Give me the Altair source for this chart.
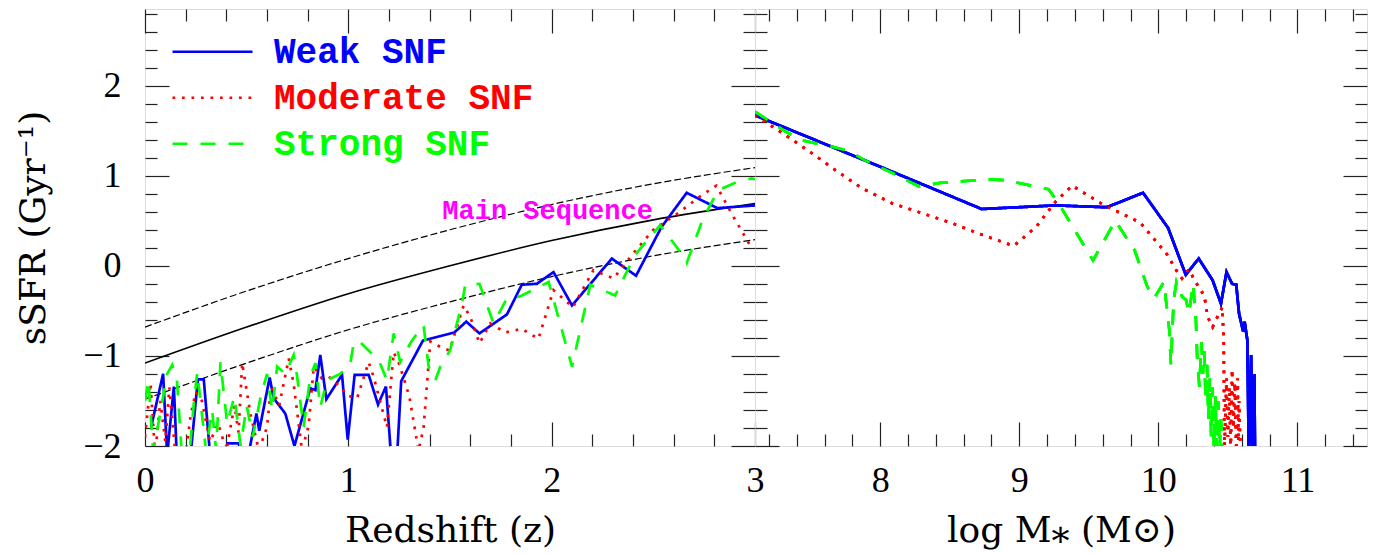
import altair as alt
import pandas as pd

SERIES = ["Weak SNF", "Moderate SNF", "Strong SNF"]
COLORS = ["#0000ff", "#ff0000", "#00ff00"]
DASHES = [[1, 0], [2.7, 6.8], [15, 13]]

# ---------------- left panel: sSFR vs redshift ----------------
ms_z = [0.0, 0.5, 1.0, 1.5, 2.0, 2.5, 3.0]
ms_center = [-1.08, -0.68, -0.31, 0.0, 0.28, 0.51, 0.69]
ms_upper = [-0.68, -0.28, 0.08, 0.40, 0.68, 0.91, 1.09]
ms_lower = [-1.48, -1.08, -0.71, -0.40, -0.12, 0.11, 0.29]

ms_label_x = [1.98]
ms_label_y = [0.61]
ms_label_text = ["Main Sequence"]

z_weak = [0.03, 0.089, 0.109, 0.142, 0.158, 0.22, 0.26, 0.289, 0.32, 0.38, 0.405, 0.46,
          0.50, 0.548, 0.562, 0.613, 0.633, 0.69, 0.735, 0.813, 0.838, 0.862, 0.892,
          0.969, 0.997, 1.031, 1.10, 1.146, 1.185, 1.21, 1.24, 1.26, 1.367, 1.452, 1.521,
          1.58, 1.645, 1.78, 1.853, 1.927, 2.009, 2.10, 2.296, 2.415, 2.54, 2.664, 2.815, 3.0]
s_weak = [-1.79, -1.20, -2.1, -1.34, -2.2, -2.2, -1.26, -1.26, -2.1, -2.2, -1.97, -1.97,
          -2.2, -1.64, -1.83, -1.24, -1.47, -1.64, -2.0, -1.36, -1.38, -0.99, -1.48,
          -1.21, -1.93, -1.21, -1.21, -1.54, -1.34, -2.1, -2.1, -1.28, -0.83, -0.78, -0.74,
          -0.62, -0.75, -0.54, -0.21, -0.20, -0.07, -0.44, 0.08, -0.11, 0.43, 0.81, 0.64, 0.67]

z_mod = [0.0, 0.027, 0.05, 0.075, 0.10, 0.12, 0.15, 0.2, 0.225, 0.25, 0.28, 0.32, 0.36,
         0.40, 0.44, 0.46, 0.478, 0.518, 0.56, 0.60, 0.62, 0.66, 0.707, 0.731, 0.772,
         0.805, 0.83, 0.87, 0.903, 0.96, 0.994, 1.043, 1.10, 1.124, 1.157, 1.19, 1.223,
         1.252, 1.30, 1.345, 1.37, 1.403, 1.452, 1.498, 1.567, 1.60, 1.645, 1.698, 1.772,
         1.853, 1.935, 2.009, 2.104, 2.205, 2.304, 2.402, 2.50, 2.631, 2.73, 2.81, 2.895,
         2.975, 3.0]
s_mod = [-1.9, -1.30, -2.1, -1.5, -1.95, -1.35, -2.1, -2.1, -1.65, -1.4, -1.5, -1.95, -1.75,
         -2.05, -1.55, -1.85, -1.08, -1.64, -2.05, -1.79, -1.34, -1.55, -1.03, -1.31, -2.05,
         -1.77, -1.12, -1.25, -1.23, -1.34, -1.44, -1.47, -1.07, -1.23, -1.51, -1.79, -0.96,
         -1.10, -1.45, -2.05, -1.8, -0.84, -0.90, -0.94, -0.44, -0.57, -0.86, -0.64, -0.74,
         -0.70, -0.81, -0.27, -0.46, -0.05, -0.14, 0.14, 0.40, 0.60, 0.77, 0.89, 0.54,
         0.23, 0.24]

z_str = [0.0, 0.017, 0.04, 0.07, 0.109, 0.134, 0.157, 0.18, 0.22, 0.24, 0.257, 0.30, 0.33,
         0.35, 0.371, 0.404, 0.44, 0.47, 0.50, 0.53, 0.568, 0.60, 0.625, 0.65, 0.69, 0.731,
         0.747, 0.78, 0.813, 0.838, 0.862, 0.895, 0.96, 1.01, 1.026, 1.05, 1.108, 1.15,
         1.19, 1.223, 1.255, 1.305, 1.338, 1.37, 1.395, 1.428, 1.452, 1.50, 1.559, 1.575,
         1.645, 1.714, 1.78, 1.844, 1.985, 2.10, 2.19, 2.312, 2.41, 2.533, 2.631, 2.664,
         2.745, 2.82, 2.91, 2.984, 3.0]
s_str = [-1.5, -1.27, -2.05, -1.7, -1.20, -1.10, -1.27, -2.05, -2.05, -1.53, -1.18, -2.05, -1.6,
         -2.05, -1.07, -1.75, -1.45, -2.0, -1.55, -1.9, -1.46, -1.20, -1.6, -1.12, -1.2, -0.99,
         -1.21, -1.79, -1.23, -1.08, -1.57, -1.27, -1.20, -1.08, -0.86, -0.83, -0.96, -1.05,
         -1.27, -0.75, -1.07, -0.86, -0.75, -0.66, -1.12, -1.27, -1.12, -0.94, -0.42, -0.21,
         -0.20, -0.64, -0.36, -0.34, -0.18, -1.12, -0.21, -0.33, 0.12, 0.45, 0.16, 0.03,
         0.53, 0.84, 0.93, 0.97, 0.96]

# ---------------- right panel: sSFR vs stellar mass ----------------
m_weak = [7.1, 8.0, 8.73, 9.26, 9.63, 9.89, 10.07, 10.197, 10.29, 10.39, 10.45, 10.49,
          10.53, 10.56, 10.58, 10.61, 10.62, 10.64, 10.65, 10.667, 10.675, 10.69, 10.695]
t_weak = [1.67, 1.10, 0.63, 0.67, 0.65, 0.81, 0.42, -0.10, 0.08, -0.16, -0.42, -0.07,
          -0.20, -0.21, -0.53, -0.73, -0.62, -0.83, -2.1, -0.99, -2.1, -1.2, -2.1]

m_mod = [7.1, 7.3, 7.49, 7.68, 7.87, 8.09, 8.31, 8.52, 8.74, 8.96, 9.12, 9.26, 9.38, 9.6,
         9.87, 10.06, 10.137, 10.17, 10.22, 10.26, 10.33, 10.355, 10.39, 10.43, 10.46, 10.47,
         10.475, 10.49, 10.50, 10.51, 10.52, 10.53, 10.54, 10.55, 10.56, 10.57, 10.575,
         10.58, 10.59]
t_mod = [1.67, 1.47, 1.27, 1.06, 0.86, 0.69, 0.58, 0.47, 0.34, 0.22, 0.43, 0.71, 0.89, 0.68,
         0.48, 0.13, -0.07, -0.14, -0.04, -0.16, -0.33, -0.57, -0.68, -0.55, -0.46, -0.86,
         -2.05, -1.25, -1.9, -1.35, -2.05, -1.15, -1.8, -1.3, -2.05, -1.25, -1.95,
         -1.5, -2.05]

m_str = [7.1, 7.3, 7.42, 7.53, 7.66, 7.78, 7.89, 8.09, 8.28, 8.43, 8.78, 8.90, 9.21, 9.28,
         9.53, 9.69, 9.83, 9.92, 9.97, 10.04, 10.08, 10.09, 10.11, 10.13, 10.17, 10.20, 10.22,
         10.25, 10.27, 10.28, 10.295, 10.31, 10.32, 10.33, 10.34, 10.35, 10.36, 10.37, 10.38,
         10.39, 10.40, 10.41, 10.42, 10.43, 10.44, 10.45, 10.46]
t_str = [1.71, 1.51, 1.40, 1.36, 1.32, 1.27, 1.17, 1.03, 0.88, 0.92, 0.96, 0.95, 0.85, 0.70,
         0.06, 0.50, 0.17, -0.23, -0.36, -0.18, -0.73, -1.10, -0.38, -0.18, -0.34, -0.38, -0.53,
         -0.20, -0.60, -1.05, -1.34, -0.85, -1.2, -0.95, -1.5, -1.1, -1.7, -1.25, -1.9,
         -1.35, -2.05, -1.45, -2.05, -1.5, -2.05, -1.7, -2.05]

# ---------------- axis ticks ----------------
XMAJ_L = [0, 1, 2, 3]
XMIN_L = [0.2, 0.4, 0.6, 0.8, 1.2, 1.4, 1.6, 1.8, 2.2, 2.4, 2.6, 2.8]
XMAJ_R = [8, 9, 10, 11]
XMIN_R = [7.2, 7.4, 7.6, 7.8, 8.2, 8.4, 8.6, 8.8, 9.2, 9.4, 9.6, 9.8, 10.2, 10.4, 10.6,
          10.8, 11.2, 11.4]
YMAJ = [-2, -1, 0, 1, 2]
YMIN = [-1.8, -1.6, -1.4, -1.2, -0.8, -0.6, -0.4, -0.2, 0.2, 0.4, 0.6, 0.8, 1.2, 1.4,
        1.6, 1.8, 2.2, 2.4, 2.6, 2.8]

YDOM = [-2, 2.85]
XDOM_L = [0, 3]
XDOM_R = [7.1, 11.5]

LABEL_FONT = "Liberation Serif"
TITLE_FONT = "DejaVu Serif"


def tick_axis(orient, values, size, **kw):
    base = dict(orient=orient, values=values, tickSize=size, offset=-size, domain=False,
                grid=False, tickColor="#222222", tickWidth=1.2, labels=False, title=None)
    base.update(kw)
    return alt.Axis(**base)


def label_axis(orient, values, title, pad, tpad, **kw):
    return tick_axis(orient, values, 24, labels=True, title=title, labelFont=LABEL_FONT,
                     labelFontSize=36, labelColor="black", labelPadding=pad,
                     labelFlush=False, labelOverlap=False, labelBound=False,
                     titleFont=TITLE_FONT, titleFontSize=36, titleFontWeight="normal",
                     titleColor="black", titlePadding=tpad, **kw)


def long_df(xs_list, ys_list):
    rows = []
    for name, xs, ys in zip(SERIES, xs_list, ys_list):
        for i, (a, b) in enumerate(zip(xs, ys)):
            rows.append({"x": a, "y": b, "series": name, "i": i})
    return pd.DataFrame(rows)


legend = alt.Legend(
    orient="none", legendX=26, legendY=20, title=None, symbolType="stroke",
    symbolSize=6400, symbolStrokeWidth=2.7, labelFont="Liberation Mono",
    labelFontWeight="bold", labelFontSize=36, labelOffset=20, rowPadding=0,
    clipHeight=45.5, padding=0, labelLimit=500, direction="vertical",
    labelColor={"expr": "datum.value === 'Weak SNF' ? '#0000ff' : "
                         "(datum.value === 'Moderate SNF' ? '#ff0000' : '#00ff00')"},
)


def snf_layer(df, xscale, xaxis, yaxis, show_legend):
    leg = legend if show_legend else None
    enc = dict(
        x=alt.X("x:Q", scale=xscale, axis=xaxis),
        y=alt.Y("y:Q", scale=alt.Scale(domain=YDOM, nice=False, zero=False), axis=yaxis),
        order=alt.Order("i:Q"),
        detail="series:N",
        color=alt.Color("series:N", scale=alt.Scale(domain=SERIES, range=COLORS), legend=leg),
        strokeDash=alt.StrokeDash("series:N", scale=alt.Scale(domain=SERIES, range=DASHES), legend=leg),
    )
    return alt.Chart(df).mark_line(strokeWidth=2.7, clip=True).encode(**enc)


# ---------------- build left panel ----------------
xs_l = alt.Scale(domain=XDOM_L, nice=False, zero=False)
ys = alt.Scale(domain=YDOM, nice=False, zero=False)

x_axes_l = [
    label_axis("bottom", XMAJ_L, "Redshift (z)", 17, 15),
    tick_axis("bottom", XMIN_L, 12),
    tick_axis("top", XMAJ_L, 24),
    tick_axis("top", XMIN_L, 12),
]
y_axes_l = [
    label_axis("left", YMAJ, "sSFR (Gyr⁻¹)", 24, 30),
    tick_axis("left", YMIN, 12),
    tick_axis("right", YMAJ, 24),
    tick_axis("right", YMIN, 12),
]

ms_df = pd.DataFrame({"z": ms_z, "c": ms_center, "u": ms_upper, "l": ms_lower})

ms_c = alt.Chart(ms_df).mark_line(color="black", strokeWidth=1.6, interpolate="monotone", clip=True).encode(
    x=alt.X("z:Q", scale=xs_l, axis=x_axes_l[0]), y=alt.Y("c:Q", scale=ys, axis=y_axes_l[0]))
ms_u = alt.Chart(ms_df).mark_line(color="black", strokeWidth=1.2, strokeDash=[7, 3],
                                  interpolate="monotone", clip=True).encode(
    x=alt.X("z:Q", scale=xs_l, axis=x_axes_l[1]), y=alt.Y("u:Q", scale=ys, axis=y_axes_l[1]))
ms_l = alt.Chart(ms_df).mark_line(color="black", strokeWidth=1.2, strokeDash=[7, 3],
                                  interpolate="monotone", clip=True).encode(
    x=alt.X("z:Q", scale=xs_l, axis=x_axes_l[2]), y=alt.Y("l:Q", scale=ys, axis=y_axes_l[2]))

left_lines = snf_layer(long_df([z_weak, z_mod, z_str], [s_weak, s_mod, s_str]),
                       xs_l, x_axes_l[3], y_axes_l[3], True)

ms_text = alt.Chart(pd.DataFrame({"x": ms_label_x, "y": ms_label_y, "t": ms_label_text})).mark_text(
    font="Liberation Mono", fontWeight="bold", fontSize=27, color="#ff00ff",
    align="center", baseline="middle").encode(
    x=alt.X("x:Q", scale=xs_l, axis=None), y=alt.Y("y:Q", scale=ys, axis=None), text="t:N")

left = alt.layer(ms_c, ms_u, ms_l, left_lines, ms_text).resolve_axis(
    x="independent", y="independent").properties(width=610, height=437)

# ---------------- build right panel ----------------
xs_r = alt.Scale(domain=XDOM_R, nice=False, zero=False)
x_axes_r = [
    label_axis("bottom", XMAJ_R, "log M⁎ (M⊙)", 17, 15),
    tick_axis("bottom", XMIN_R, 12),
    tick_axis("top", XMAJ_R, 24),
    tick_axis("top", XMIN_R, 12),
]
y_axes_r = [
    tick_axis("left", YMAJ, 24),
    tick_axis("left", YMIN, 12),
    tick_axis("right", YMAJ, 24),
    tick_axis("right", YMIN, 12),
]

right_df = long_df([m_weak, m_mod, m_str], [t_weak, t_mod, t_str])
right_layers = [snf_layer(right_df, xs_r, x_axes_r[k], y_axes_r[k], False) for k in range(4)]
right_layers[3] = right_layers[3].mark_line(opacity=0, clip=True)
right = alt.layer(*right_layers).resolve_axis(
    x="independent", y="independent").properties(width=612, height=437)

chart = alt.hconcat(left, right, spacing=0, bounds="flush").resolve_scale(
    x="independent", y="independent", color="independent", strokeDash="independent"
).resolve_legend(color="independent", strokeDash="independent").properties(
    padding={"left": 15, "top": 7, "right": 5, "bottom": 5},
).configure_view(stroke="black", strokeWidth=2).configure(background="white")

chart.save("out.html", embed_options={"renderer": "svg", "actions": False})
